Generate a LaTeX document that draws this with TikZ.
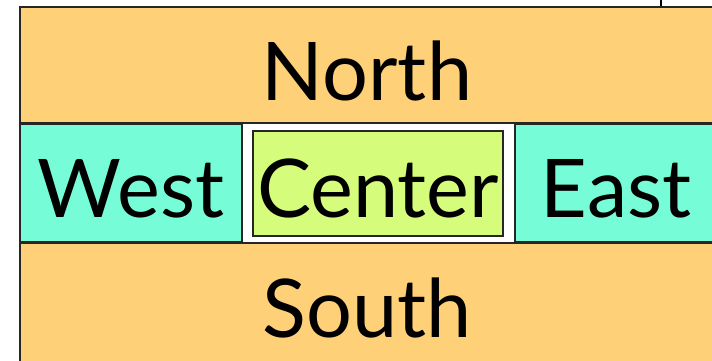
\documentclass[tikz,border=0pt]{standalone}
\usepackage{fontspec}
\setmainfont{Lato}
\usepackage{xcolor}
\definecolor{paneorange}{RGB}{254,209,121}
\definecolor{paneaqua}{RGB}{118,253,215}
\definecolor{panelime}{RGB}{213,252,122}

\begin{document}
\begin{tikzpicture}[x=0.5pt,y=-0.5pt,
    pane/.style={draw=black!85,line width=0.8pt},
    lbl/.style={anchor=base,inner sep=0pt,font=\fontsize{40.5}{48}\selectfont}]
  \useasboundingbox (0,0) rectangle (712,360);
  \clip (0,0) rectangle (712,360);
  % frame edge behind the panes
  \draw[line width=0.8pt] (661,0) -- (661,360);
  % north and south panes
  \filldraw[pane,fill=paneorange] (20,7) rectangle (716,123);
  \node[lbl] (north) at (367,100) {North};
  \filldraw[pane,fill=paneorange] (20,243) rectangle (716,362);
  \node[lbl] (south) at (367,337) {South};
  % middle row
  \fill[white] (242,124) rectangle (515,242);
  \filldraw[pane,fill=paneaqua] (20,124) rectangle (242,242);
  \node[lbl] (west) at (131,217) {West};
  \filldraw[pane,fill=panelime] (253,131) rectangle (503,236);
  \node[lbl] (center) at (378,217) {Center};
  \filldraw[pane,fill=paneaqua] (515,124) rectangle (716,242);
  \node[lbl] (east) at (616,217) {East};
\end{tikzpicture}
\end{document}
